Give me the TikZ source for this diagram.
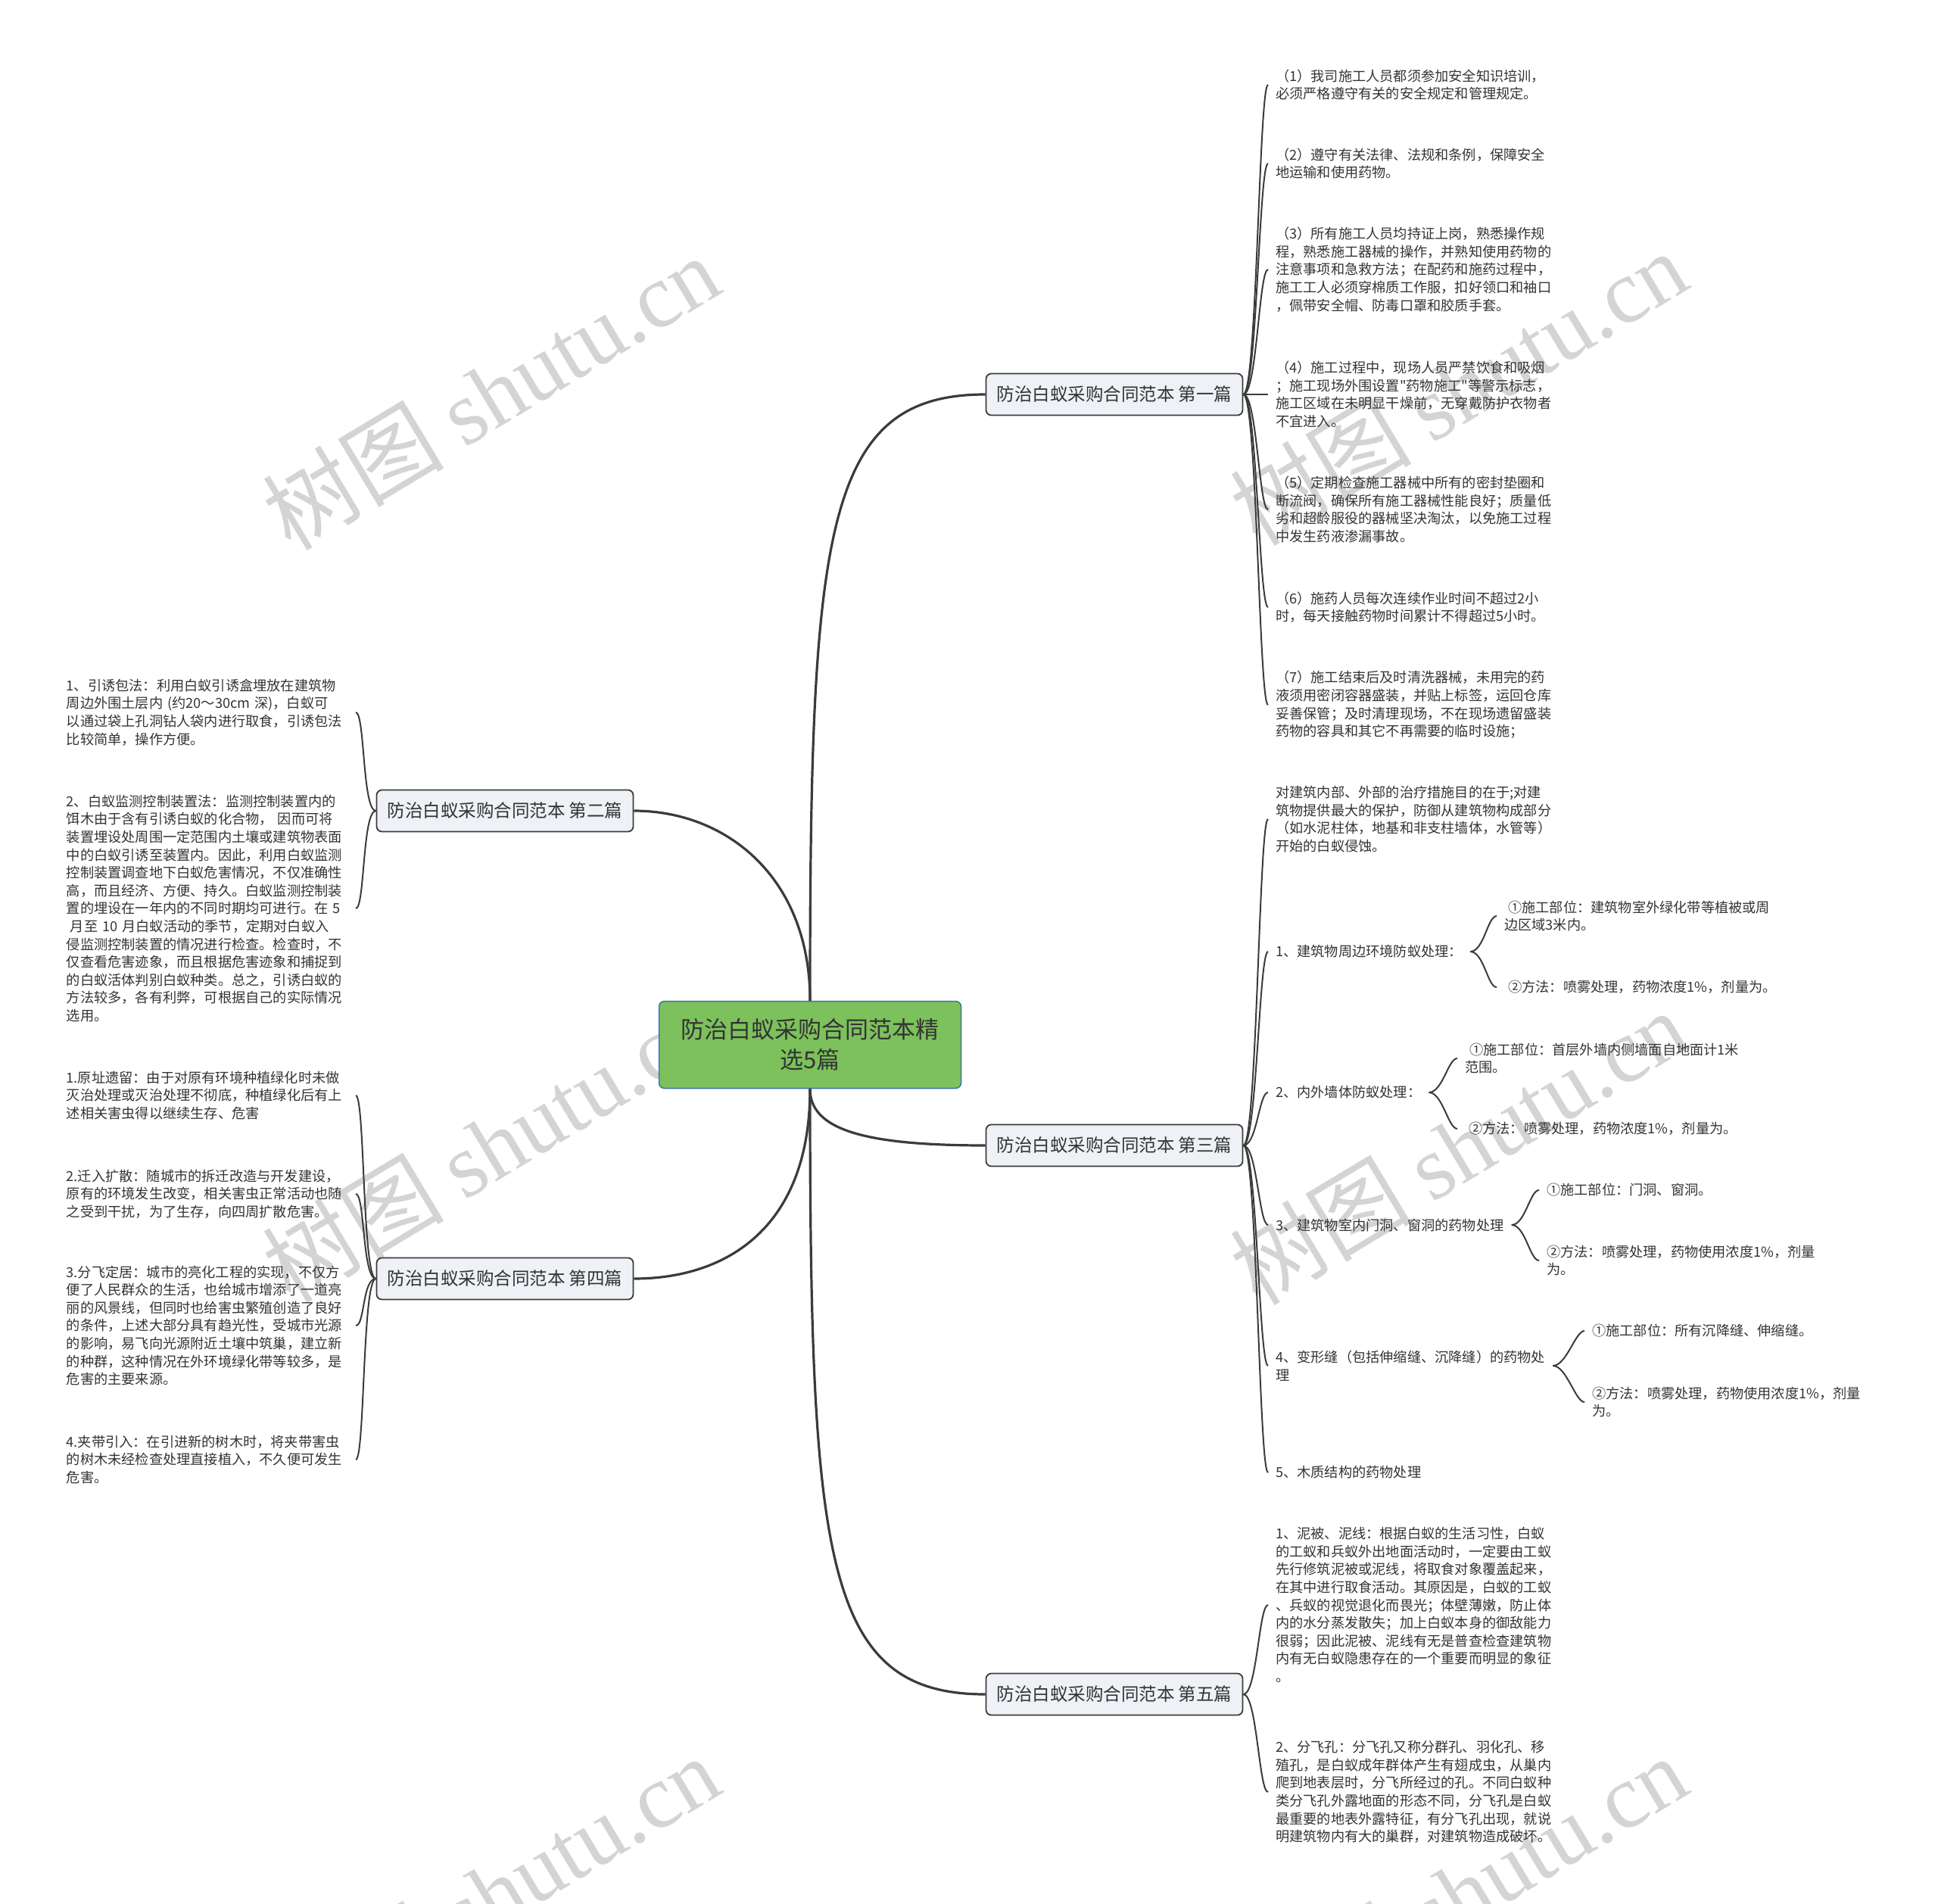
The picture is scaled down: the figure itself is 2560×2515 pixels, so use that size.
\documentclass[tikz,border=0pt]{standalone}
\usepackage{fontspec}
\newfontfamily\cjk{Noto Sans CJK SC}
\newfontfamily\wmlatin{Liberation Serif}
\usepackage{xcolor}
\definecolor{rootgreen}{HTML}{7CC15C}
\definecolor{rootline}{HTML}{3A74A0}
\definecolor{boxgray}{HTML}{EEF1F5}
\definecolor{linegray}{HTML}{3B3B3B}
\definecolor{textgray}{HTML}{333333}
\definecolor{markgray}{HTML}{D4D4D4}
\tikzset{
  mainbox/.style={draw=rootline, line width=1.5pt, fill=rootgreen, rounded corners=7pt,
    minimum width=399pt, minimum height=115pt, align=center, text=textgray,
    font=\cjk\fontsize{31}{40}\selectfont},
  partbox/.style={draw=linegray, line width=1.8pt, fill=boxgray, rounded corners=7pt,
    minimum width=339pt, minimum height=55pt, text=textgray,
    font=\cjk\fontsize{23.5}{28}\selectfont},
  leaf/.style={align=left, inner xsep=10pt, inner ysep=2pt, text=textgray,
    font=\cjk\fontsize{18.2}{23.6}\selectfont},
  wideleaf/.style={leaf, text width=372pt},
  trunk/.style={draw=linegray, line width=3.2pt},
  twig/.style={draw=linegray, line width=2pt},
  watermark/.style={text=markgray, rotate=31, font=\cjk\fontsize{120}{120}\selectfont}
}

\begin{document}
\begin{tikzpicture}[x=1pt, y=-1pt]

    \useasboundingbox (0,0) rectangle (2560,2515);
    \clip (0,0) rectangle (2560,2515);

    % Watermarks behind everything
    \node[watermark] (wm1) at (648,518) {树图 {\wmlatin shutu.cn}};
    \node[watermark] (wm2) at (1926,512) {树图 {\wmlatin shutu.cn}};
    \node[watermark] (wm3) at (648,1512) {树图 {\wmlatin shutu.cn}};
    \node[watermark] (wm4) at (1926,1515) {树图 {\wmlatin shutu.cn}};
    \node[watermark] (wm5) at (648,2500) {树图 {\wmlatin shutu.cn}};
    \node[watermark] (wm6) at (1926,2500) {树图 {\wmlatin shutu.cn}};

    % Root and the five parts
    \node[mainbox] (main) at (1070,1380) {防治白蚁采购合同范本精\\选5篇};
    \node[partbox] (p1) at (1472,521) {防治白蚁采购合同范本 第一篇};
    \node[partbox] (p2) at (667,1071) {防治白蚁采购合同范本 第二篇};
    \node[partbox] (p3) at (1472,1513) {防治白蚁采购合同范本 第三篇};
    \node[partbox] (p4) at (667,1689) {防治白蚁采购合同范本 第四篇};
    \node[partbox] (p5) at (1472,2238) {防治白蚁采购合同范本 第五篇};

    \draw[trunk] (main.north) .. controls +(0,-622) and +(-213,0) .. (p1.west);
    \draw[trunk] (main.north) .. controls +(0,-162) and +(123,0) .. (p2.east);
    \draw[trunk] (main.south) .. controls +(0,53) and +(-163,0) .. (p3.west);
    \draw[trunk] (main.south) .. controls +(0,183) and +(123,0) .. (p4.east);
    \draw[trunk] (main.south) .. controls +(0,623) and +(-213,0) .. (p5.west);

    % Part 1 (right, top)
    \node[leaf, anchor=west] (p1a) at (1675,112) {（1）我司施工人员都须参加安全知识培训，\\必须严格遵守有关的安全规定和管理规定。};
    \node[leaf, anchor=west] (p1b) at (1675,216) {（2）遵守有关法律、法规和条例，保障安全\\地运输和使用药物。};
    \node[leaf, anchor=west] (p1c) at (1675,356) {（3）所有施工人员均持证上岗，熟悉操作规\\程，熟悉施工器械的操作，并熟知使用药物的\\注意事项和急救方法；在配药和施药过程中，\\施工工人必须穿棉质工作服，扣好领口和袖口\\，佩带安全帽、防毒口罩和胶质手套。};
    \node[leaf, anchor=west] (p1d) at (1675,521) {（4）施工过程中，现场人员严禁饮食和吸烟\\；施工现场外围设置"药物施工"等警示标志，\\施工区域在未明显干燥前，无穿戴防护衣物者\\不宜进入。};
    \node[leaf, anchor=west] (p1e) at (1675,673) {（5）定期检查施工器械中所有的密封垫圈和\\断流阀，确保所有施工器械性能良好；质量低\\劣和超龄服役的器械坚决淘汰，以免施工过程\\中发生药液渗漏事故。};
    \node[leaf, anchor=west] (p1f) at (1675,802) {（6）施药人员每次连续作业时间不超过2小\\时，每天接触药物时间累计不得超过5小时。};
    \node[leaf, anchor=west] (p1g) at (1675,931) {（7）施工结束后及时清洗器械，未用完的药\\液须用密闭容器盛装，并贴上标签，运回仓库\\妥善保管；及时清理现场，不在现场遗留盛装\\药物的容具和其它不再需要的临时设施；};

    \draw[twig] (p1.east) .. controls +(18,0) and +(-12,0) .. (p1a.west);
    \draw[twig] (p1.east) .. controls +(18,0) and +(-12,0) .. (p1b.west);
    \draw[twig] (p1.east) .. controls +(18,0) and +(-12,0) .. (p1c.west);
    \draw[twig] (p1.east) -- (p1d.west);
    \draw[twig] (p1.east) .. controls +(18,0) and +(-12,0) .. (p1e.west);
    \draw[twig] (p1.east) .. controls +(18,0) and +(-12,0) .. (p1f.west);
    \draw[twig] (p1.east) .. controls +(18,0) and +(-12,0) .. (p1g.west);

    % Part 2 (left, top)
    \node[wideleaf, anchor=east] (p2a) at (470,941) {1、引诱包法：利用白蚁引诱盒埋放在建筑物\\周边外围土层内 (约20～30cm 深)，白蚁可\\以通过袋上孔洞钻人袋内进行取食，引诱包法\\比较简单，操作方便。};
    \node[wideleaf, anchor=east] (p2b) at (470,1200) {2、白蚁监测控制装置法：监测控制装置内的\\饵木由于含有引诱白蚁的化合物， 因而可将\\装置埋设处周围一定范围内土壤或建筑物表面\\中的白蚁引诱至装置内。因此，利用白蚁监测\\控制装置调查地下白蚁危害情况，不仅准确性\\高，而且经济、方便、持久。白蚁监测控制装\\置的埋设在一年内的不同时期均可进行。在 5\\\hspace*{5pt}月至 10 月白蚁活动的季节，定期对白蚁入\\侵监测控制装置的情况进行检查。检查时，不\\仅查看危害迹象，而且根据危害迹象和捕捉到\\的白蚁活体判别白蚁种类。总之，引诱白蚁的\\方法较多，各有利弊，可根据自己的实际情况\\选用。};

    \draw[twig] (p2.west) .. controls +(-18,0) and +(12,0) .. (p2a.east);
    \draw[twig] (p2.west) .. controls +(-18,0) and +(12,0) .. (p2b.east);

    % Part 3 (right, middle)
    \node[leaf, anchor=west] (p3a) at (1675,1082) {对建筑内部、外部的治疗措施目的在于;对建\\筑物提供最大的保护，防御从建筑物构成部分\\（如水泥柱体，地基和非支柱墙体，水管等）\\开始的白蚁侵蚀。};
    \node[leaf, anchor=west] (p3b) at (1675,1257) {1、建筑物周边环境防蚁处理：};
    \node[leaf, anchor=west] (p3c) at (1675,1443) {2、内外墙体防蚁处理：};
    \node[leaf, anchor=west] (p3d) at (1675,1618) {3、建筑物室内门洞、窗洞的药物处理};
    \node[leaf, anchor=west] (p3e) at (1675,1804) {4、变形缝（包括伸缩缝、沉降缝）的药物处\\理};
    \node[leaf, anchor=west] (p3f) at (1675,1945) {5、木质结构的药物处理};

    \draw[twig] (p3.east) .. controls +(18,0) and +(-12,0) .. (p3a.west);
    \draw[twig] (p3.east) .. controls +(18,0) and +(-12,0) .. (p3b.west);
    \draw[twig] (p3.east) .. controls +(18,0) and +(-12,0) .. (p3c.west);
    \draw[twig] (p3.east) .. controls +(18,0) and +(-12,0) .. (p3d.west);
    \draw[twig] (p3.east) .. controls +(18,0) and +(-12,0) .. (p3e.west);
    \draw[twig] (p3.east) .. controls +(18,0) and +(-12,0) .. (p3f.west);

    \node[leaf, anchor=west] (p3b1) at (1977,1210) {\hspace*{5pt}①施工部位：建筑物室外绿化带等植被或周\\边区域3米内。};
    \node[leaf, anchor=west] (p3b2) at (1977,1304) {\hspace*{5pt}②方法：喷雾处理，药物浓度1\%，剂量为。};
    \node[leaf, anchor=west] (p3c1) at (1925,1398) {\hspace*{6pt}①施工部位：首层外墙内侧墙面自地面计1米\\范围。};
    \node[leaf, anchor=west] (p3c2) at (1925,1491) {\hspace*{5pt}②方法：喷雾处理，药物浓度1\%，剂量为。};
    \node[leaf, anchor=west] (p3d1) at (2033,1572) {①施工部位：门洞、窗洞。};
    \node[leaf, anchor=west] (p3d2) at (2033,1665) {②方法：喷雾处理，药物使用浓度1\%，剂量\\为。};
    \node[leaf, anchor=west] (p3e1) at (2093,1758) {①施工部位：所有沉降缝、伸缩缝。};
    \node[leaf, anchor=west] (p3e2) at (2093,1852) {②方法：喷雾处理，药物使用浓度1\%，剂量\\为。};

    \draw[twig] (p3b.east) .. controls +(18,0) and +(-12,0) .. (p3b1.west);
    \draw[twig] (p3b.east) .. controls +(18,0) and +(-12,0) .. (p3b2.west);
    \draw[twig] (p3c.east) .. controls +(18,0) and +(-12,0) .. (p3c1.west);
    \draw[twig] (p3c.east) .. controls +(18,0) and +(-12,0) .. (p3c2.west);
    \draw[twig] (p3d.east) .. controls +(18,0) and +(-12,0) .. (p3d1.west);
    \draw[twig] (p3d.east) .. controls +(18,0) and +(-12,0) .. (p3d2.west);
    \draw[twig] (p3e.east) .. controls +(18,0) and +(-12,0) .. (p3e1.west);
    \draw[twig] (p3e.east) .. controls +(18,0) and +(-12,0) .. (p3e2.west);

    % Part 4 (left, bottom)
    \node[wideleaf, anchor=east] (p4a) at (470,1447) {1.原址遗留：由于对原有环境种植绿化时未做\\灭治处理或灭治处理不彻底，种植绿化后有上\\述相关害虫得以继续生存、危害};
    \node[wideleaf, anchor=east] (p4b) at (470,1577) {2.迁入扩散：随城市的拆迁改造与开发建设，\\原有的环境发生改变，相关害虫正常活动也随\\之受到干扰，为了生存，向四周扩散危害。};
    \node[wideleaf, anchor=east] (p4c) at (470,1751) {3.分飞定居：城市的亮化工程的实现，不仅方\\便了人民群众的生活，也给城市增添了一道亮\\丽的风景线，但同时也给害虫繁殖创造了良好\\的条件，上述大部分具有趋光性，受城市光源\\的影响，易飞向光源附近土壤中筑巢，建立新\\的种群，这种情况在外环境绿化带等较多，是\\危害的主要来源。};
    \node[wideleaf, anchor=east] (p4d) at (470,1928) {4.夹带引入：在引进新的树木时，将夹带害虫\\的树木未经检查处理直接植入，不久便可发生\\危害。};

    \draw[twig] (p4.west) .. controls +(-18,0) and +(12,0) .. (p4a.east);
    \draw[twig] (p4.west) .. controls +(-18,0) and +(12,0) .. (p4b.east);
    \draw[twig] (p4.west) .. controls +(-18,0) and +(12,0) .. (p4c.east);
    \draw[twig] (p4.west) .. controls +(-18,0) and +(12,0) .. (p4d.east);

    % Part 5 (right, bottom)
    \node[leaf, anchor=west] (p5a) at (1675,2120) {1、泥被、泥线：根据白蚁的生活习性，白蚁\\的工蚁和兵蚁外出地面活动时，一定要由工蚁\\先行修筑泥被或泥线，将取食对象覆盖起来，\\在其中进行取食活动。其原因是，白蚁的工蚁\\、兵蚁的视觉退化而畏光；体壁薄嫩，防止体\\内的水分蒸发散失；加上白蚁本身的御敌能力\\很弱；因此泥被、泥线有无是普查检查建筑物\\内有无白蚁隐患存在的一个重要而明显的象征\\。};
    \node[leaf, anchor=west] (p5b) at (1675,2367) {2、分飞孔：分飞孔又称分群孔、羽化孔、移\\殖孔，是白蚁成年群体产生有翅成虫，从巢内\\爬到地表层时，分飞所经过的孔。不同白蚁种\\类分飞孔外露地面的形态不同，分飞孔是白蚁\\最重要的地表外露特征，有分飞孔出现，就说\\明建筑物内有大的巢群，对建筑物造成破坏。};

    \draw[twig] (p5.east) .. controls +(18,0) and +(-12,0) .. (p5a.west);
    \draw[twig] (p5.east) .. controls +(18,0) and +(-12,0) .. (p5b.west);

\end{tikzpicture}
\end{document}
